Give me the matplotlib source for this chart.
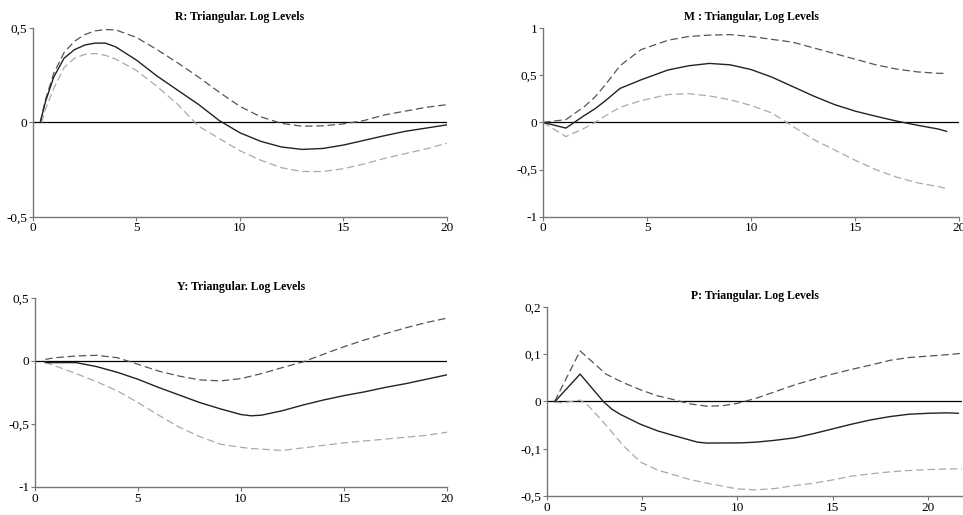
import matplotlib
matplotlib.use("Agg")
import matplotlib.pyplot as plt

plt.rcParams['font.family'] = ['Liberation Serif', 'DejaVu Serif']

# R panel
r_x = [0.35, 0.6, 1, 1.5, 2, 2.5, 3, 3.5, 4, 5, 6, 7, 8, 9, 10, 11, 12, 13, 14, 15, 16, 17, 18, 19, 20]
r_mid = [0, 0.11, 0.24, 0.34, 0.385, 0.41, 0.42, 0.42, 0.40, 0.33, 0.245, 0.17, 0.095, 0.01, -0.055, -0.10, -0.13, -0.143, -0.138, -0.12, -0.095, -0.07, -0.047, -0.03, -0.013]
r_up = [0, 0.12, 0.26, 0.37, 0.43, 0.465, 0.485, 0.492, 0.49, 0.45, 0.385, 0.315, 0.24, 0.16, 0.085, 0.03, -0.005, -0.02, -0.018, -0.008, 0.01, 0.04, 0.06, 0.08, 0.094]
r_lo_x = [0.42, 0.6, 1, 1.5, 2, 2.5, 3, 3.5, 4, 5, 6, 7, 8, 9, 10, 11, 12, 13, 14, 15, 16, 17, 18, 19, 20]
r_lo = [0, 0.07, 0.18, 0.29, 0.34, 0.36, 0.365, 0.355, 0.335, 0.275, 0.19, 0.095, -0.02, -0.085, -0.15, -0.2, -0.24, -0.26, -0.26, -0.245, -0.22, -0.19, -0.165, -0.14, -0.11]

# M panel
m_x = [0, 1.1, 2, 2.5, 3, 3.7, 4.7, 6, 7, 8, 9, 10, 11, 12, 13, 14, 15, 16, 17, 18, 19, 19.4]
m_mid = [0, -0.06, 0.075, 0.145, 0.23, 0.36, 0.45, 0.555, 0.6, 0.625, 0.61, 0.56, 0.48, 0.38, 0.28, 0.19, 0.12, 0.065, 0.014, -0.03, -0.07, -0.095]
m_up = [0, 0.03, 0.17, 0.27, 0.4, 0.6, 0.77, 0.87, 0.91, 0.925, 0.93, 0.91, 0.88, 0.85, 0.79, 0.73, 0.67, 0.61, 0.565, 0.535, 0.52, 0.52]
m_lo = [0, -0.15, -0.06, 0, 0.07, 0.16, 0.23, 0.295, 0.305, 0.28, 0.24, 0.18, 0.1, -0.04, -0.18, -0.29, -0.4, -0.5, -0.58, -0.64, -0.68, -0.7]

# Y panel
y_x = [0.5, 1, 2, 3, 4, 5, 6, 7, 8, 9, 10, 10.5, 11, 12, 13, 14, 15, 16, 17, 18, 19, 20]
y_mid = [-0.013, -0.013, -0.013, -0.045, -0.09, -0.145, -0.21, -0.27, -0.33, -0.38, -0.425, -0.435, -0.43, -0.395, -0.35, -0.31, -0.275, -0.245, -0.21, -0.18, -0.145, -0.11]
y_up = [0.013, 0.026, 0.04, 0.045, 0.026, -0.026, -0.08, -0.12, -0.15, -0.158, -0.14, -0.12, -0.1, -0.053, -0.008, 0.053, 0.113, 0.167, 0.216, 0.263, 0.305, 0.34]
y_lo = [-0.008, -0.04, -0.1, -0.165, -0.237, -0.33, -0.43, -0.525, -0.6, -0.66, -0.685, -0.695, -0.7, -0.71, -0.69, -0.67, -0.65, -0.635, -0.62, -0.605, -0.59, -0.565]

# P panel
p_x = [0.42, 1.74, 2.96, 3.4, 3.84, 4.9, 5.8, 6.65, 7.9, 8.4, 10.2, 11, 12, 13, 14, 15, 16, 17, 18, 19, 20, 21, 21.6]
p_mid = [0, 0.058, 0, -0.016, -0.027, -0.048, -0.062, -0.072, -0.086, -0.088, -0.0875, -0.086, -0.082, -0.077, -0.068, -0.058, -0.048, -0.039, -0.032, -0.027, -0.025, -0.024, -0.025]
p_bx = [0.4, 1.74, 3.1, 4, 4.9, 5.8, 6.65, 7.5, 8.4, 9.2, 10, 11, 12, 13, 14, 15, 16, 17, 18, 19, 20, 21, 21.8]
p_up = [0, 0.107, 0.058, 0.04, 0.025, 0.012, 0.004, -0.005, -0.01, -0.009, -0.004, 0.007, 0.021, 0.035, 0.047, 0.058, 0.068, 0.077, 0.087, 0.093, 0.096, 0.099, 0.102]
p_lx = [0.4, 0.8, 1.74, 2.2, 3.1, 4, 4.9, 5.8, 6.65, 7.5, 8.4, 10, 11, 12, 13, 14, 15, 16, 17, 18, 19, 20, 21, 21.8]
p_lo = [-0.001, -0.003, 0.003, -0.01, -0.05, -0.093, -0.128, -0.145, -0.155, -0.165, -0.173, -0.185, -0.187, -0.184, -0.178, -0.173, -0.166, -0.158, -0.153, -0.149, -0.146, -0.144, -0.143, -0.142]

x_ticks = [0, 5, 10, 15, 20]
x_labels = ['0', '5', '10', '15', '20']

panels = [
    dict(rect=[0.0343, 0.579, 0.4297, 0.3666], title='R: Triangular. Log Levels',
         mid=(r_x, r_mid), up=(r_x, r_up), lo=(r_lo_x, r_lo), xlim=(0, 20), ylim=(-0.5, 0.5),
         yt=[-0.5, 0, 0.5], yl=['-0,5', '0', '0,5']),
    dict(rect=[0.5639, 0.579, 0.4320, 0.3666], title='M : Triangular, Log Levels',
         mid=(m_x, m_mid), up=(m_x, m_up), lo=(m_x, m_lo), xlim=(0, 20), ylim=(-1, 1),
         yt=[-1, -0.5, 0, 0.5, 1], yl=['-1', '-0,5', '0', '0,5', '1']),
    dict(rect=[0.0363, 0.0544, 0.4278, 0.367], title='Y: Triangular. Log Levels',
         mid=(y_x, y_mid), up=(y_x, y_up), lo=(y_x, y_lo), xlim=(0, 20), ylim=(-1, 0.5),
         yt=[-1, -0.5, 0, 0.5], yl=['-1', '-0,5', '0', '0,5']),
    dict(rect=[0.568, 0.0369, 0.431, 0.367], title='P: Triangular. Log Levels',
         mid=(p_x, p_mid), up=(p_bx, p_up), lo=(p_lx, p_lo), xlim=(0, 21.8), ylim=(-0.2, 0.2),
         yt=[-0.2, -0.1, 0, 0.1, 0.2], yl=['-0,5', '-0,1', '0', '0,1', '0,2']),
]

fig = plt.figure(figsize=(9.63, 5.15), dpi=100)

for p in panels:
    ax = fig.add_axes(p['rect'])
    ax.axhline(0, color='black', lw=0.9, zorder=1)
    ax.plot(*p['up'], color='#555555', lw=0.9, dashes=(6, 3), solid_joinstyle='round')
    ax.plot(*p['lo'], color='#aaaaaa', lw=0.9, dashes=(6, 3), solid_joinstyle='round')
    ax.plot(*p['mid'], color='#222222', lw=1.0, solid_joinstyle='round')
    ax.set_xlim(*p['xlim'])
    ax.set_ylim(*p['ylim'])
    ax.set_xticks(x_ticks)
    ax.set_xticklabels(x_labels)
    ax.set_yticks(p['yt'])
    ax.set_yticklabels(p['yl'])
    for s in ['top', 'right']:
        ax.spines[s].set_visible(False)
    for s in ['left', 'bottom']:
        ax.spines[s].set_color('#777777')
        ax.spines[s].set_linewidth(1.0)
    ax.tick_params(direction='out', length=3, width=0.8, color='#777777',
                   labelsize=9.5, pad=1)
    ax.set_title(p['title'], fontsize=8.5, fontweight='bold', pad=6)

fig.savefig('out.png', dpi=100)
